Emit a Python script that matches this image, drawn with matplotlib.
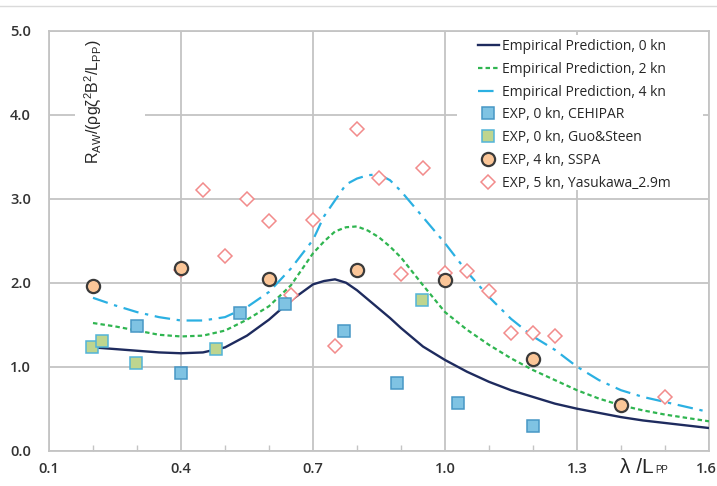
import matplotlib
matplotlib.use("Agg")
import matplotlib.pyplot as plt
from matplotlib.patches import Rectangle
from matplotlib.lines import Line2D
from matplotlib.ticker import MultipleLocator
from matplotlib.transforms import ScaledTranslation

plt.rcParams['font.family'] = ['Open Sans', 'DejaVu Sans']

# empirical prediction curves (lambda/Lpp vs non-dimensional added resistance)
x_curve = [0.2, 0.25, 0.3, 0.35, 0.4, 0.45, 0.5, 0.55, 0.6, 0.65, 0.7, 0.725,
           0.75, 0.775, 0.8, 0.825, 0.85, 0.875, 0.9, 0.95, 1.0, 1.05, 1.1,
           1.15, 1.2, 1.25, 1.3, 1.35, 1.4, 1.45, 1.5, 1.55, 1.6]
emp_0kn = [1.23, 1.21, 1.19, 1.17, 1.16, 1.17, 1.23, 1.37, 1.56, 1.79, 1.98, 2.02,
           2.04, 2.00, 1.91, 1.80, 1.69, 1.58, 1.46, 1.24, 1.08, 0.94, 0.82,
           0.72, 0.64, 0.56, 0.50, 0.45, 0.40, 0.36, 0.33, 0.30, 0.27]
emp_2kn = [1.52, 1.48, 1.43, 1.38, 1.36, 1.37, 1.43, 1.56, 1.72, 1.97, 2.35, 2.49,
           2.61, 2.66, 2.67, 2.62, 2.54, 2.43, 2.30, 1.97, 1.65, 1.44, 1.26,
           1.10, 0.96, 0.84, 0.72, 0.62, 0.54, 0.48, 0.43, 0.39, 0.35]
emp_4kn = [1.82, 1.73, 1.65, 1.59, 1.55, 1.55, 1.59, 1.71, 1.89, 2.17, 2.51, 2.79,
           2.98, 3.17, 3.24, 3.28, 3.29, 3.22, 3.09, 2.78, 2.47, 2.13, 1.83,
           1.57, 1.36, 1.20, 1.00, 0.84, 0.72, 0.64, 0.58, 0.52, 0.46]

# experiments
cehipar_x = [0.30, 0.40, 0.535, 0.636, 0.77, 0.89, 1.03, 1.20]
cehipar_y = [1.48, 0.93, 1.64, 1.75, 1.42, 0.81, 0.57, 0.29]
guo_x = [0.198, 0.22, 0.298, 0.48, 0.947]
guo_y = [1.23, 1.31, 1.04, 1.21, 1.80]
sspa_x = [0.2, 0.4, 0.6, 0.8, 1.0, 1.2, 1.4]
sspa_y = [1.96, 2.17, 2.05, 2.15, 2.03, 1.09, 0.54]
yasu_x = [0.40, 0.45, 0.50, 0.55, 0.60, 0.65, 0.70, 0.75, 0.80, 0.85, 0.90,
          0.95, 1.00, 1.05, 1.10, 1.15, 1.20, 1.25, 1.50]
yasu_y = [2.15, 3.10, 2.32, 3.00, 2.74, 1.85, 2.75, 1.25, 3.83, 3.25, 2.10,
          3.37, 2.11, 2.14, 1.90, 1.40, 1.40, 1.36, 0.64]

x_ticks = [0.1, 0.4, 0.7, 1.0, 1.3, 1.6]
y_ticks = [0.0, 1.0, 2.0, 3.0, 4.0, 5.0]

W, H = 717, 486
x0, y0, aw, ah = 49, 450.7, 660, 420   # plot area in pixels


def ax_frac(px, py):
    return (px - x0) / aw, (y0 - py) / ah


fig = plt.figure(figsize=(W / 100, H / 100), dpi=100)
ax = fig.add_axes([x0 / W, 1 - y0 / H, aw / W, ah / H])

grid_c = '#C4C4C4'
ax.set_axisbelow(True)
ax.grid(True, color=grid_c, lw=1.3)
for s in ax.spines.values():
    s.set_color(grid_c)
    s.set_linewidth(1.3)

ax.plot(x_curve, emp_0kn, color='#1E2B5E', lw=1.7, label='Empirical Prediction, 0 kn', zorder=3)
ax.plot(x_curve, emp_2kn, color='#2FB550', lw=1.6, ls=(0, (2, 1.4)),
        label='Empirical Prediction, 2 kn', zorder=3)
ax.plot(x_curve, emp_4kn, color='#2BB0E2', lw=1.6, ls=(0, (7, 3, 1.5, 3)),
        label='Empirical Prediction, 4 kn', zorder=3)

ax.plot(cehipar_x, cehipar_y, ls='none', marker='s', ms=8, mfc='#7FC3E3', mec='#4797C5',
        mew=1.1, label='EXP, 0 kn, CEHIPAR', zorder=5)
ax.plot(guo_x, guo_y, ls='none', marker='s', ms=8, mfc='#BED58F', mec='#52B4D8',
        mew=1.1, label='EXP, 0 kn, Guo&Steen', zorder=5)
ax.plot(yasu_x, yasu_y, ls='none', marker='D', ms=7, mfc='white', mec='#F28B8B',
        mew=1.1, label='EXP, 5 kn, Yasukawa_2.9m', zorder=4)
ax.plot(sspa_x, sspa_y, ls='none', marker='o', ms=9.5, mfc='#FBC698', mec='#3A3A3A',
        mew=1.6, label='EXP, 4 kn, SSPA', zorder=6)

ax.set_xlim(0.1, 1.6)
ax.set_ylim(0, 5)
ax.set_xticks(x_ticks)
ax.set_xticklabels(['%.1f' % v for v in x_ticks])
ax.set_yticks(y_ticks)
ax.set_yticklabels(['%.1f' % v for v in y_ticks])
ax.xaxis.set_minor_locator(MultipleLocator(0.1))
ax.tick_params(which='major', length=0, labelsize=10.5, labelcolor='#333333')
ax.tick_params(axis='x', which='major', pad=8)
ax.tick_params(axis='y', which='major', pad=13)
ax.tick_params(axis='x', which='minor', direction='in', length=4, color=grid_c, width=1)
for lab in ax.get_xticklabels() + ax.get_yticklabels():
    lab.set_fontweight('semibold')
# keep the last x label inside the canvas
last = ax.get_xticklabels()[-1]
last.set_transform(last.get_transform() + ScaledTranslation(-3 / 100, 0, fig.dpi_scale_trans))

# white panel behind the y axis title
bx, by = ax_frac(75, 176)
ax.add_patch(Rectangle((bx, by), 70 / aw, 141 / ah, transform=ax.transAxes,
                       facecolor='white', edgecolor='none', zorder=1))
tx, ty = ax_frac(93, 102)
ax.text(tx, ty, r'$\mathregular{R_{AW}/(ρgζ^2B^2/L_{PP})}$',
        rotation=90, ha='center', va='center', transform=ax.transAxes,
        fontsize=11.5, color='#262626', family=['Liberation Sans', 'DejaVu Sans'], zorder=7)

# x axis title sits on the tick label row
lx, ly = ax_frac(620, 473)
lam = ax.text(lx, ly, 'λ /L', ha='left', va='baseline', transform=ax.transAxes,
              fontsize=15, color='#262626', family=['Liberation Sans', 'DejaVu Sans'],
              clip_on=False)
ax.annotate('PP', xy=(1, 0), xycoords=lam, xytext=(1.5, 1.5), textcoords='offset points',
            ha='left', va='bottom', fontsize=7, color='#262626',
            family=['Liberation Sans', 'DejaVu Sans'], annotation_clip=False)

# legend: white panel plus frameless entries
rx, ry = ax_frac(457, 190)
ax.add_patch(Rectangle((rx, ry), (703 - 457) / aw, (190 - 35) / ah, transform=ax.transAxes,
                       facecolor='white', edgecolor='none', zorder=1))
handles, labels = ax.get_legend_handles_labels()
order = [0, 1, 2, 3, 4, 6, 5]
ax_leg = ax_frac(478, 39)
leg = ax.legend([handles[i] for i in order], [labels[i] for i in order],
                loc='upper left', bbox_to_anchor=ax_leg, borderaxespad=0, borderpad=0,
                fontsize=10, frameon=False, handlelength=1.5, handletextpad=0.25,
                labelspacing=0.56)
leg.set_zorder(8)
for t in leg.get_texts():
    t.set_color('#262626')

fig.add_artist(Line2D([0, 1], [1 - 6 / H, 1 - 6 / H], color='#DADADA', lw=1))

fig.savefig('out.png', dpi=100, facecolor='white')
